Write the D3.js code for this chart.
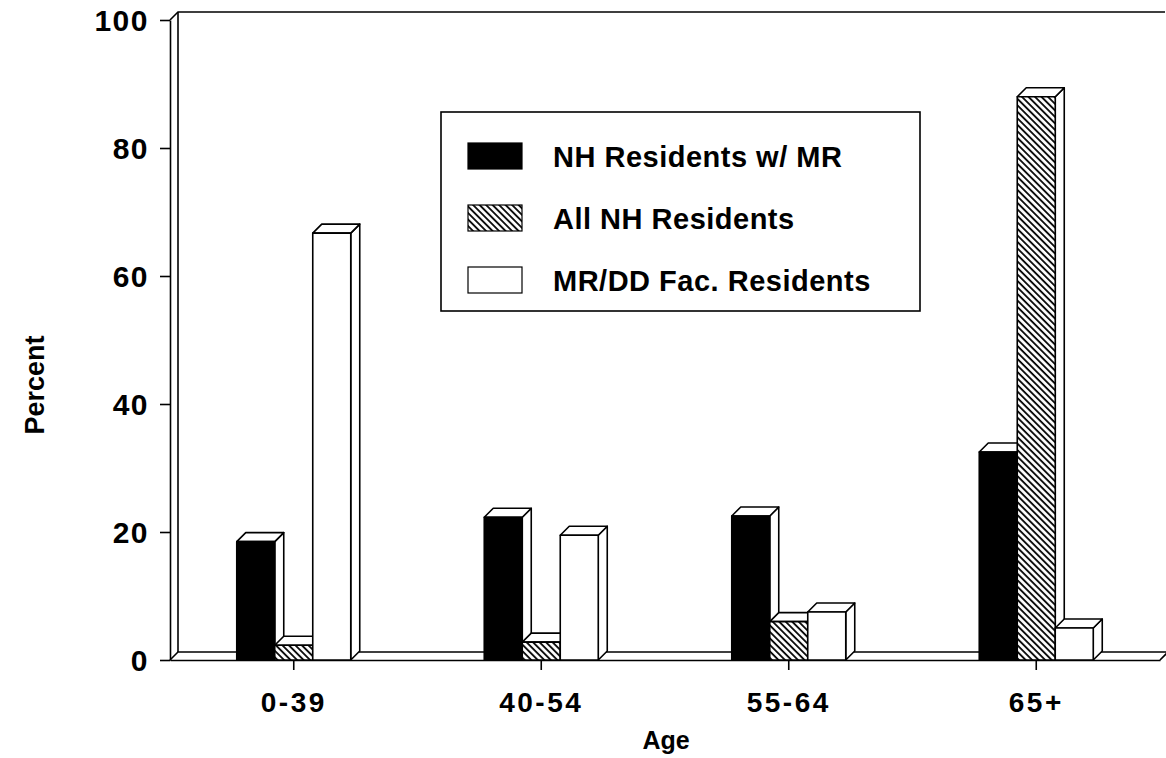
<!DOCTYPE html>
<html>
<head>
<meta charset="utf-8">
<script src="https://cdn.jsdelivr.net/npm/d3@7"></script>
<style>
  html, body { margin: 0; padding: 0; background: #fff; }
  svg { display: block; }
  text { font-family: "Liberation Sans", Arial, Helvetica, sans-serif; font-weight: bold; fill: #000; }
</style>
</head>
<body>
<svg id="chart" width="1166" height="758"></svg>
<script>
// ---- data ----
const categories = ["0-39", "40-54", "55-64", "65+"];
const seriesNames = ["NH Residents w/ MR", "All NH Residents", "MR/DD Fac. Residents"];
const nhMR    = [18.5, 22.3, 22.5, 32.5];
const allNH   = [2.3, 2.8, 6, 88];
const mrddFac = [66.7, 19.5, 7.5, 5];
const yTicks  = [0, 20, 40, 60, 80, 100];
const xTitle = "Age";
const yTitle = "Percent";

const seriesValues = [nhMR, allNH, mrddFac];

(function () {
const svg = d3.select("#chart");
const pL = 170, pR = 1160, pT = 20, pB = 660, depth = 8, bdepth = 9;

const y = d3.scaleLinear().domain([0, 100]).range([pB, pT]);
const x = d3.scaleBand().domain(categories).range([pL, pR]);
const inner = d3.scaleBand().domain(seriesNames).range([0, 114]);

// hatch pattern
const defs = svg.append("defs");
const pat = defs.append("pattern")
  .attr("id", "hatch").attr("patternUnits", "userSpaceOnUse")
  .attr("width", 4.6).attr("height", 4.6)
  .attr("patternTransform", "rotate(-45)");
pat.append("rect").attr("width", 4.6).attr("height", 4.6).attr("fill", "#fff");
pat.append("line").attr("x1", 1).attr("y1", -1).attr("x2", 1).attr("y2", 6)
  .attr("stroke", "#000").attr("stroke-width", 1.8);

const fills = ["#000", "url(#hatch)", "#fff"];

// wall & floor
const frame = svg.append("g").attr("fill", "none").attr("stroke", "#000").attr("stroke-width", 1.6);
frame.append("path").attr("d", `M${pL},${pT} L${pL + depth},${pT - depth} L${pR + 5},${pT - depth}`);
frame.append("path").attr("d", `M${pL + depth},${pT - depth} L${pL + depth},${pB - depth}`);
frame.append("path").attr("d", `M${pL},${pB} L${pL + depth},${pB - depth} L${pR + depth},${pB - depth} L${pR},${pB}`);

// axes
const yAxis = d3.axisLeft(y).tickValues(yTicks).tickSize(10).tickSizeOuter(0).tickPadding(11);
const gy = svg.append("g").attr("transform", `translate(${pL},0)`).call(yAxis);
gy.selectAll("text").style("font-size", "30px").style("letter-spacing", "1.5px").attr("dy", "0.36em");

const xAxis = d3.axisBottom(x).tickSize(10).tickSizeOuter(0).tickPadding(22);
const gx = svg.append("g").attr("transform", `translate(0,${pB})`).call(xAxis);
gx.selectAll("text").style("font-size", "28px").style("letter-spacing", "2.5px");

[gy, gx].forEach(g => {
  g.selectAll("path.domain").attr("stroke", "#000").attr("stroke-width", 1.6);
  g.selectAll(".tick line").attr("stroke", "#000").attr("stroke-width", 1.6);
});

// bars
const barsG = svg.append("g");
categories.forEach((cat, ci) => {
  const g0 = x(cat) + x.bandwidth() / 2 - 57;
  seriesNames.forEach((s, si) => {
    const v = seriesValues[si][ci];
    const x0 = g0 + inner(s), w = inner.bandwidth(), yv = y(v), d = bdepth;
    const g = barsG.append("g").attr("stroke", "#000").attr("stroke-width", 1.6).attr("stroke-linejoin", "round");
    g.append("path").attr("fill", "#fff")
      .attr("d", `M${x0 + w},${yv} L${x0 + w + d},${yv - d} L${x0 + w + d},${pB - d} L${x0 + w},${pB} Z`);
    g.append("path").attr("fill", "#fff")
      .attr("d", `M${x0},${yv} L${x0 + d},${yv - d} L${x0 + w + d},${yv - d} L${x0 + w},${yv} Z`);
    g.append("rect").attr("x", x0).attr("y", yv).attr("width", w).attr("height", pB - yv)
      .attr("fill", fills[si]);
  });
});

// axis titles
svg.append("text").attr("x", 666).attr("y", 749).attr("text-anchor", "middle")
  .style("font-size", "25px").text(xTitle);
svg.append("text").attr("transform", `translate(44,385) rotate(-90)`).attr("text-anchor", "middle")
  .style("font-size", "27px").text(yTitle);

// legend
const lg = svg.append("g");
lg.append("rect").attr("x", 441).attr("y", 112).attr("width", 479).attr("height", 199)
  .attr("fill", "#fff").attr("stroke", "#000").attr("stroke-width", 1.6);
seriesNames.forEach((s, i) => {
  const yy = 143 + i * 62;
  lg.append("rect").attr("x", 468).attr("y", yy).attr("width", 54).attr("height", 26)
    .attr("fill", fills[i]).attr("stroke", "#000").attr("stroke-width", 1.2);
  lg.append("text").attr("x", 553).attr("y", yy + 14).attr("dy", "0.36em")
    .style("font-size", "29px").style("letter-spacing", "0.5px").text(s);
});
})();
</script>
</body>
</html>
